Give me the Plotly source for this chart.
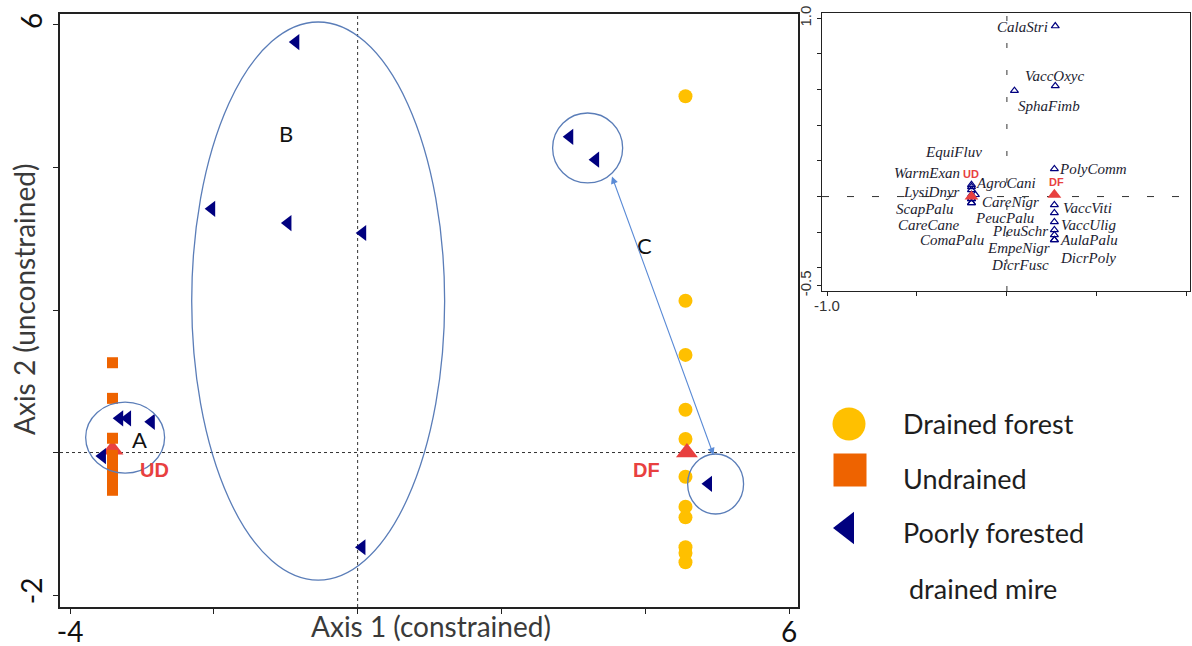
import plotly.graph_objects as go

# ---------------- Main ordination (sample scores) ----------------
drained_forest_x = [4.56] * 11
drained_forest_y = [5.00, 2.13, 1.37, 0.60, 0.19, -0.34, -0.76, -0.91, -1.33, -1.41, -1.54]

undrained_x = [-3.41] * 8
undrained_y = [1.26, 0.76, 0.20, -0.04, -0.18, -0.32, -0.46, -0.53]

poor_x = [-3.31, -3.20, -2.87, -3.55, -0.86, -2.03, -0.97, 0.07, 0.06, 2.95, 3.31, 4.88]
poor_y = [0.48, 0.48, 0.43, -0.05, 5.76, 3.42, 3.22, 3.08, -1.33, 4.43, 4.11, -0.44]

centroid_names = ["UD", "DF"]
centroid_x = [-3.41, 4.58]
centroid_y = [0.04, 0.00]
centroid_label_x = [-2.82, 4.02]
centroid_label_y = [-0.25, -0.25]

# group ellipses: centre x, centre y, radius x, radius y (data units)
group_cx = [-3.234, -0.549, 3.199, 4.979]
group_cy = [0.21, 2.126, 4.274, -0.442]
group_rx = [0.549, 1.759, 0.487, 0.389]
group_ry = [0.498, 3.916, 0.491, 0.421]
group_label_text = ["A", "B", "C"]
group_label_x = [-3.03, -0.99, 3.99]
group_label_y = [0.18, 4.48, 2.91]

arrow_start = (3.53, 3.895)
arrow_end = (4.95, -0.035)

x_ticks = [-4, -2, 0, 2, 4, 6]
x_ticktext = ["-4", "", "", "", "", "6"]
y_ticks = [-2, 0, 2, 4, 6]
y_ticktext = ["-2", "", "", "", "6"]

# ---------------- Inset (species scores) ----------------
species = ["CalaStri", "VaccOxyc", "SphaFimb", "PolyComm", "EquiFluv", "WarmExan",
           "LysiDnyr", "AgroCani", "CareNigr", "ScapPalu", "CareCane", "ComaPalu",
           "PeucPalu", "PleuSchr", "EmpeNigr", "DicrFusc", "VaccViti", "VaccUlig",
           "AulaPalu", "DicrPoly"]
species_x = [0.269, 0.269, 0.042, 0.264, -0.197, -0.197,
             -0.197, -0.197, -0.197, -0.197, -0.197, -0.197,
             -0.175, 0.264, 0.264, 0.264, 0.264, 0.264,
             0.264, 0.264]
species_y = [0.957, 0.621, 0.594, 0.155, 0.054, 0.038,
             0.010, 0.066, -0.013, -0.035, -0.013, -0.035,
             0.010, -0.092, -0.187, -0.243, -0.047, -0.142,
             -0.215, -0.243]
# label offsets in pixels (label centre relative to the point)
label_dx = [-33, -1, 35, 39, -18, -44,
            -40, 35, 39, -46, -43, -19,
            29, -34, -36, -34, 33, 34,
            35, 34]
label_dy = [1, -10, 15, 0, -35, -17,
            -3, -2, 3, 6, 26, 37,
            23, 18, 18, 25, 3, 3,
            5, 18]

inset_centroid_x = [-0.197, 0.264]
inset_centroid_y = [0.0, 0.01]

inset_x_ticks = [-1.0, -0.5, 0.0, 0.5, 1.0]
inset_x_ticktext = ["-1.0", "", "", "", "1.0"]
inset_y_ticks = [-0.5, -0.4, -0.2, 0.0, 0.2, 0.4, 0.6, 0.8, 1.0]
inset_y_ticktext = ["-0.5", "", "", "", "", "", "", "", "1.0"]

# ---------------- Legend ----------------
legend_labels = ["Drained forest", "Undrained", "Poorly forested"]
legend_extra = "drained mire"

YELLOW = "#FFC000"
ORANGE = "#EE6300"
NAVY = "#00007F"
RED = "#E8403F"
ELL = "#5A7DB8"
SANS = "Lato, 'Open Sans', sans-serif"
SERIF = "Liberation Serif, 'Times New Roman', serif"
ARIAL = "Liberation Sans, Arial, sans-serif"

W, H = 1192, 646
LX0, LY0 = 805, 330

fig = go.Figure()

fig.add_trace(go.Scatter(x=drained_forest_x, y=drained_forest_y, mode="markers",
                         marker=dict(symbol="circle", size=14, color=YELLOW),
                         xaxis="x", yaxis="y", showlegend=False, hoverinfo="skip"))
fig.add_trace(go.Scatter(x=centroid_x, y=centroid_y, mode="markers",
                         marker=dict(symbol="triangle-up", size=19, color=RED),
                         xaxis="x", yaxis="y", showlegend=False, hoverinfo="skip"))
fig.add_trace(go.Scatter(x=undrained_x, y=undrained_y, mode="markers",
                         marker=dict(symbol="square", size=11, color=ORANGE),
                         xaxis="x", yaxis="y", showlegend=False, hoverinfo="skip"))
fig.add_trace(go.Scatter(x=poor_x, y=poor_y, mode="markers",
                         marker=dict(symbol="triangle-left", size=14, color=NAVY),
                         xaxis="x", yaxis="y", showlegend=False, hoverinfo="skip"))

fig.add_trace(go.Scatter(x=species_x, y=species_y, mode="markers",
                         marker=dict(symbol="triangle-up-open", size=7, color=NAVY,
                                     line=dict(width=1.2, color=NAVY)),
                         xaxis="x2", yaxis="y2", showlegend=False, hoverinfo="skip"))
fig.add_trace(go.Scatter(x=inset_centroid_x, y=inset_centroid_y, mode="markers",
                         marker=dict(symbol="triangle-up", size=12, color=RED),
                         xaxis="x2", yaxis="y2", showlegend=False, hoverinfo="skip"))

legend_px_x = [849, 850, 847]
legend_px_y = [424, 470, 528]
legend_symbols = ["circle", "square", "triangle-left"]
legend_colors = [YELLOW, ORANGE, NAVY]
legend_sizes = [33, 33, 28]
for lx, ly, sym, col, sz in zip(legend_px_x, legend_px_y, legend_symbols, legend_colors, legend_sizes):
    fig.add_trace(go.Scatter(x=[lx], y=[ly], mode="markers",
                             marker=dict(symbol=sym, size=sz, color=col),
                             xaxis="x3", yaxis="y3", showlegend=False, hoverinfo="skip"))

shapes = []
shapes.append(dict(type="line", xref="x domain", yref="y", x0=0, x1=1, y0=0, y1=0,
                   line=dict(color="#333", width=1, dash="3px,3px"), layer="below"))
shapes.append(dict(type="line", xref="x", yref="y domain", x0=0, x1=0, y0=0, y1=1,
                   line=dict(color="#333", width=1, dash="3px,3px"), layer="below"))
shapes.append(dict(type="line", xref="x2 domain", yref="y2", x0=0, x1=1, y0=0, y1=0,
                   line=dict(color="#333", width=1, dash="7px,18px"), layer="below"))
shapes.append(dict(type="line", xref="x2", yref="y2 domain", x0=0, x1=0, y0=0, y1=1,
                   line=dict(color="#333", width=1, dash="5px,22px"), layer="below"))
for cx, cy, rx, ry in zip(group_cx, group_cy, group_rx, group_ry):
    shapes.append(dict(type="circle", xref="x", yref="y",
                       x0=cx - rx, x1=cx + rx, y0=cy - ry, y1=cy + ry,
                       line=dict(color=ELL, width=1.3)))

annotations = []
for t, lx, ly in zip(group_label_text, group_label_x, group_label_y):
    annotations.append(dict(text=t, x=lx, y=ly, xref="x", yref="y", showarrow=False,
                            font=dict(family=SANS, size=22, color="#111")))
for t, lx, ly in zip(centroid_names, centroid_label_x, centroid_label_y):
    annotations.append(dict(text="<b>%s</b>" % t, x=lx, y=ly, xref="x", yref="y", showarrow=False,
                            font=dict(family=ARIAL, size=20, color=RED)))
annotations.append(dict(x=arrow_end[0], y=arrow_end[1], ax=arrow_start[0], ay=arrow_start[1],
                        xref="x", yref="y", axref="x", ayref="y", text="", showarrow=True,
                        arrowhead=2, startarrowhead=2, arrowside="end+start", arrowsize=1.3,
                        startarrowsize=1.3, arrowwidth=1.1, arrowcolor="#5B8BD6"))
annotations.append(dict(text="Axis 1 (constrained)", x=431 / W, y=1 - 626 / H, xref="paper", yref="paper",
                        xanchor="center", yanchor="middle",
                        showarrow=False, font=dict(family=SANS, size=28, color="#3a3a3a")))
annotations.append(dict(text="Axis 2 (unconstrained)", x=24 / W, y=1 - 300 / H, xref="paper", yref="paper",
                        xanchor="center", yanchor="middle",
                        showarrow=False, textangle=-90,
                        font=dict(family=SANS, size=28, color="#3a3a3a")))
for name, sx, sy, dx, dy in zip(species, species_x, species_y, label_dx, label_dy):
    annotations.append(dict(text="<i>%s</i>" % name, x=sx, y=sy, xref="x2", yref="y2",
                            showarrow=False, xshift=dx, yshift=-dy,
                            font=dict(family=SERIF, size=15, color="#1c1c30")))
inset_lab_dx = [0, 2]
inset_lab_dy = [-23, -13]
for t, sx, sy, dx, dy in zip(centroid_names, inset_centroid_x, inset_centroid_y, inset_lab_dx, inset_lab_dy):
    annotations.append(dict(text="<b>%s</b>" % t, x=sx, y=sy, xref="x2", yref="y2",
                            showarrow=False, xshift=dx, yshift=-dy,
                            font=dict(family=ARIAL, size=11, color=RED)))
legend_text_y = [423, 478, 532]
for t, ty in zip(legend_labels, legend_text_y):
    annotations.append(dict(text=t, x=901, y=ty, xref="x3", yref="y3", xanchor="left",
                            showarrow=False, font=dict(family=SANS, size=27, color="#1e1e1e")))
annotations.append(dict(text=legend_extra, x=907, y=588, xref="x3", yref="y3", xanchor="left",
                        showarrow=False, font=dict(family=SANS, size=27, color="#1e1e1e")))

main_axis_common = dict(showline=True, mirror=True, linecolor="#222", linewidth=1.5,
                        ticks="outside", ticklen=5, tickcolor="#222", showgrid=False,
                        zeroline=False, automargin=False)
inset_axis_common = dict(showline=True, mirror=True, linecolor="#222", linewidth=1.2,
                         ticks="outside", ticklen=4, tickcolor="#222", showgrid=False,
                         zeroline=False, automargin=False)

fig.update_layout(
    width=W, height=H,
    margin=dict(l=0, r=0, t=0, b=0, autoexpand=False),
    paper_bgcolor="white", plot_bgcolor="rgba(0,0,0,0)",
    showlegend=False,
    xaxis=dict(domain=[60 / W, 798 / W], range=[-4.14, 6.125], tickvals=x_ticks, ticktext=x_ticktext,
               tickfont=dict(family=SANS, size=28, color="#111"), ticklabelstandoff=-5,
               anchor="y", **main_axis_common),
    yaxis=dict(domain=[1 - 607 / H, 1 - 14 / H], range=[-2.168, 6.154], tickvals=y_ticks,
               ticktext=y_ticktext, tickangle=-90,
               tickfont=dict(family=SANS, size=28, color="#111"), anchor="x", **main_axis_common),
    xaxis2=dict(domain=[822 / W, 1190 / W], range=[-1.028, 1.018], tickvals=inset_x_ticks,
                ticktext=inset_x_ticktext, anchor="y2", ticklabelstandoff=-3,
                tickfont=dict(family=ARIAL, size=15, color="#333"),
                **inset_axis_common),
    yaxis2=dict(domain=[1 - 291 / H, 1 - 13 / H], range=[-0.53, 1.03], tickvals=inset_y_ticks,
                ticktext=inset_y_ticktext, tickangle=-90, anchor="x2",
                tickfont=dict(family=ARIAL, size=15, color="#333"),
                **inset_axis_common),
    xaxis3=dict(domain=[LX0 / W, 1], range=[LX0, W], visible=False, fixedrange=True,
                anchor="y3", automargin=False),
    yaxis3=dict(domain=[0, 1 - LY0 / H], range=[H, LY0], visible=False, fixedrange=True,
                anchor="x3", automargin=False),
    shapes=shapes,
    annotations=annotations,
)

fig.write_html("out.html", config={"displayModeBar": False},
               post_script="document.body.style.margin='0';document.body.style.overflow='hidden';")
